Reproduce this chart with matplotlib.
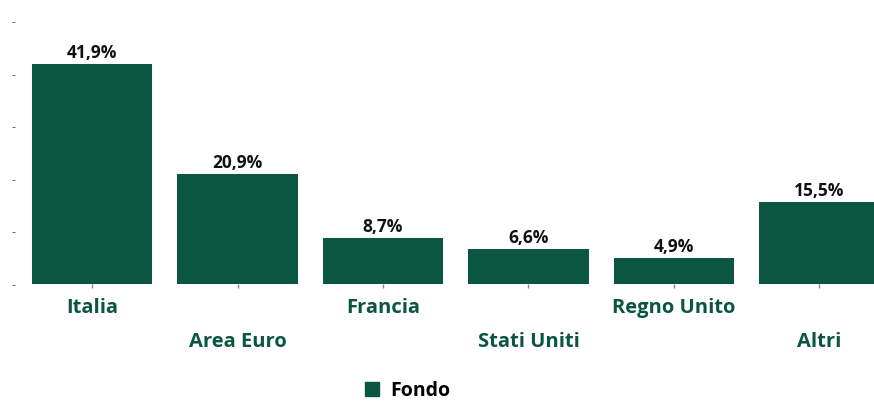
import matplotlib
matplotlib.use("Agg")
import matplotlib.pyplot as plt
from matplotlib.patches import Patch

# dati
paesi = ["Italia", "Area Euro", "Francia", "Stati Uniti", "Regno Unito", "Altri"]
fondo = [41.9, 20.9, 8.7, 6.6, 4.9, 15.5]
etichette = ["41,9%", "20,9%", "8,7%", "6,6%", "4,9%", "15,5%"]
y_ticks = [0, 10, 20, 30, 40, 50]

verde = "#0b5640"
plt.rcParams['font.family'] = ['Open Sans', 'DejaVu Sans']

fig = plt.figure(figsize=(8.74, 4.01), dpi=100)
ax = fig.add_axes([20 / 874, 1 - 284 / 401, 1 - 20 / 874, (284 - 21) / 401])

x = list(range(len(paesi)))
bars = ax.bar(x, fondo, width=0.83, color=verde)

for i, b in enumerate(bars):
    ax.annotate(etichette[i], (b.get_x() + b.get_width() / 2, b.get_height()),
                xytext=(0, 1.5), textcoords="offset points",
                ha="center", va="bottom", fontsize=12.5, fontweight="bold",
                color="#111111")

ax.set_xlim(-0.495, 5.375)
ax.set_ylim(0, 50)

ax.set_yticks(y_ticks)
ax.set_yticklabels(["-"] * len(y_ticks), color="#555555", fontsize=9)
ax.tick_params(axis="y", length=0, pad=3)

ax.set_xticks(x)
ax.set_xticklabels([])
ax.tick_params(axis="x", length=3, width=1, color="#888888", direction="out")

# etichette alternate su due righe
for i, nome in enumerate(paesi):
    off = -17.5 if i % 2 == 0 else -41.5
    ax.annotate(nome, (i, 0), xycoords=ax.get_xaxis_transform(),
                xytext=(0, off), textcoords="offset points",
                ha="center", va="center", fontsize=14.5, fontweight="bold",
                color=verde)

for s in ax.spines.values():
    s.set_visible(False)

fig.legend(handles=[Patch(color=verde, label="Fondo")],
           loc="center", bbox_to_anchor=(408 / 874, 1 - 391 / 401),
           frameon=False, prop={"size": 14, "weight": "bold"},
           handlelength=0.7, handleheight=0.7, handletextpad=0.6,
           borderpad=0.1)

fig.savefig("out.png", dpi=100)
